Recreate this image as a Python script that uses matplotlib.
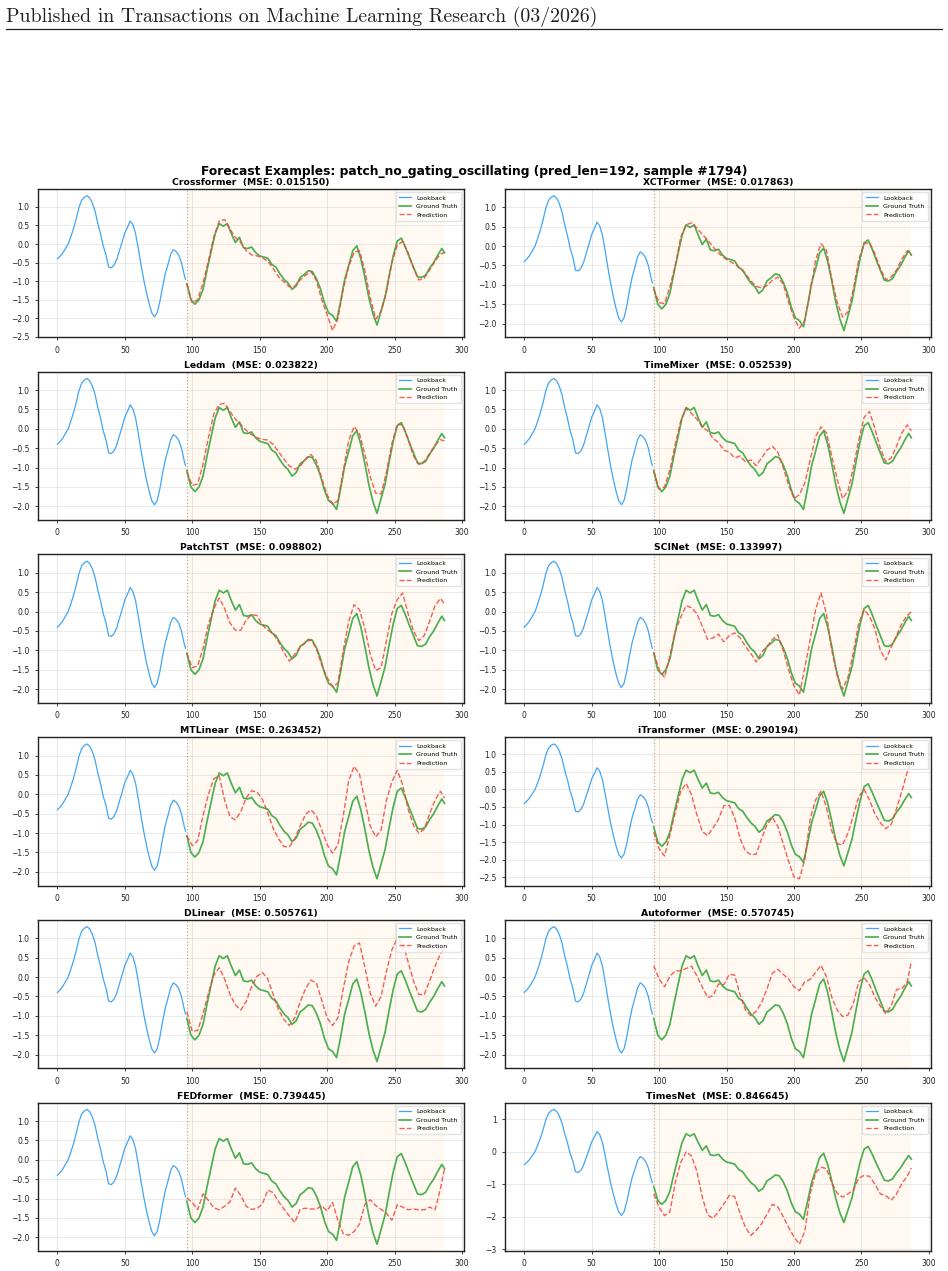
import numpy as np
import matplotlib
matplotlib.use("Agg")
import matplotlib.pyplot as plt
from matplotlib.lines import Line2D

# ---------------- data ----------------
header_text = "Published in Transactions on Machine Learning Research (03/2026)"
suptitle_text = "Forecast Examples: patch_no_gating_oscillating (pred_len=192, sample #1794)"

lookback_t = np.r_[np.arange(0, 95, 2), 95]
lookback_v = [-0.40, -0.33, -0.24, -0.12, 0.00, 0.20, 0.42, 0.68, 0.98, 1.18,
              1.26, 1.30, 1.24, 1.10, 0.88, 0.55, 0.28, -0.05, -0.28, -0.62,
              -0.64, -0.57, -0.42, -0.18, 0.05, 0.30, 0.45, 0.62, 0.52, 0.28,
              -0.12, -0.55, -0.95, -1.30, -1.60, -1.85, -1.96, -1.85, -1.55, -1.15,
              -0.80, -0.55, -0.28, -0.15, -0.20, -0.30, -0.50, -0.82, -0.95]

gt_t = np.r_[np.arange(96, 286, 3), 287]
gt_v = [-1.07, -1.50, -1.62, -1.50, -1.22, -0.69, -0.20, 0.28, 0.55, 0.48,
        0.55, 0.28, 0.04, 0.18, -0.10, -0.12, -0.08, -0.23, -0.32, -0.35,
        -0.38, -0.55, -0.62, -0.80, -0.95, -1.05, -1.22, -1.13, -0.90, -0.82,
        -0.72, -0.74, -0.93, -1.20, -1.58, -1.85, -1.92, -2.08, -1.55, -0.96,
        -0.58, -0.18, -0.05, -0.40, -0.90, -1.45, -1.88, -2.18, -1.80, -1.42,
        -0.85, -0.32, 0.08, 0.16, -0.08, -0.36, -0.62, -0.88, -0.90, -0.84,
        -0.65, -0.50, -0.30, -0.12, -0.23]

pred_t = np.r_[np.arange(96, 285, 4), 287]

models = ["Crossformer", "XCTFormer", "Leddam", "TimeMixer", "PatchTST", "SCINet",
          "MTLinear", "iTransformer", "DLinear", "Autoformer", "FEDformer", "TimesNet"]
mse = ["0.015150", "0.017863", "0.023822", "0.052539", "0.098802", "0.133997",
       "0.263452", "0.290194", "0.505761", "0.570745", "0.739445", "0.846645"]

pred_crossformer = [-1.07, -1.58, -1.50, -1.05, -0.45, 0.20, 0.62, 0.66, 0.40, 0.18,
                    0.04, -0.18, -0.29, -0.32, -0.37, -0.46, -0.66, -0.88, -1.02, -1.15,
                    -1.13, -0.97, -0.84, -0.74, -0.98, -1.50, -1.90, -2.33, -2.00, -1.20,
                    -0.60, -0.22, -0.18, -0.72, -1.45, -2.02, -1.82, -1.28, -0.50, -0.03,
                    0.07, -0.23, -0.65, -0.97, -0.92, -0.70, -0.46, -0.27, -0.23]
pred_xctformer = [-1.11, -1.46, -1.48, -1.05, -0.50, 0.22, 0.55, 0.60, 0.47, 0.30,
                  0.16, -0.02, -0.18, -0.30, -0.39, -0.46, -0.57, -0.71, -0.90, -1.04,
                  -1.08, -1.02, -0.88, -0.80, -0.98, -1.45, -1.85, -2.12, -1.92, -1.19,
                  -0.36, 0.06, -0.10, -0.85, -1.45, -1.83, -1.70, -1.11, -0.35, 0.07,
                  0.08, -0.20, -0.58, -0.87, -0.80, -0.62, -0.33, -0.12, -0.23]
pred_leddam = [-1.12, -1.46, -1.42, -0.92, -0.22, 0.38, 0.63, 0.66, 0.45, 0.25,
               0.11, -0.04, -0.15, -0.23, -0.27, -0.29, -0.40, -0.59, -0.78, -0.96,
               -1.04, -0.97, -0.78, -0.66, -0.82, -1.28, -1.70, -1.95, -1.85, -1.08,
               -0.30, 0.06, -0.13, -0.66, -1.24, -1.66, -1.68, -1.12, -0.38, 0.12,
               0.10, -0.25, -0.70, -0.92, -0.84, -0.64, -0.42, -0.28, -0.31]
pred_timemixer = [-1.10, -1.55, -1.50, -1.05, -0.40, 0.20, 0.52, 0.40, 0.25, 0.05,
                  -0.05, -0.25, -0.35, -0.55, -0.60, -0.75, -0.70, -0.85, -0.80, -0.95,
                  -0.75, -0.55, -0.45, -0.60, -1.00, -1.45, -1.80, -1.70, -1.40, -0.80,
                  -0.20, 0.05, -0.10, -0.70, -1.30, -1.80, -1.60, -1.00, -0.30, 0.30,
                  0.45, 0.00, -0.50, -0.85, -0.75, -0.45, -0.10, 0.10, -0.05]
pred_patchtst = [-1.08, -1.45, -1.40, -0.95, -0.32, 0.08, 0.35, 0.08, -0.30, -0.48,
                 -0.48, -0.22, -0.08, -0.10, -0.35, -0.48, -0.57, -0.78, -1.06, -1.28,
                 -1.10, -0.92, -0.80, -0.72, -0.95, -1.38, -1.70, -1.94, -1.85, -1.00,
                 -0.25, 0.18, 0.05, -0.44, -1.10, -1.52, -1.45, -0.75, -0.05, 0.31,
                 0.48, -0.05, -0.50, -0.75, -0.62, -0.25, 0.15, 0.34, 0.20]
pred_scinet = [-1.06, -1.50, -1.70, -1.15, -0.50, -0.15, 0.15, 0.10, -0.05, -0.38,
               -0.72, -0.68, -0.58, -0.78, -0.62, -0.55, -0.68, -0.90, -1.08, -1.30,
               -1.05, -0.90, -0.72, -0.60, -1.00, -1.50, -1.92, -2.15, -1.45, -0.72,
               0.05, 0.48, -0.05, -1.00, -1.65, -2.00, -1.70, -1.06, -0.30, 0.05,
               -0.12, -0.45, -1.00, -1.25, -0.92, -0.62, -0.30, -0.10, 0.00]
pred_mtlinear = [-1.07, -1.32, -1.20, -0.55, 0.00, 0.40, 0.48, -0.15, -0.58, -0.66,
                 -0.45, -0.09, 0.09, 0.06, -0.13, -0.48, -0.88, -1.15, -1.35, -1.35,
                 -1.15, -0.82, -0.52, -0.40, -0.55, -0.92, -1.30, -1.52, -1.30, -0.55,
                 0.35, 0.72, 0.52, -0.17, -0.82, -1.10, -0.92, -0.15, 0.32, 0.62,
                 0.25, -0.38, -0.80, -1.00, -0.90, -0.50, -0.15, 0.08, -0.10]
pred_itransformer = [-1.22, -1.70, -1.90, -1.30, -0.65, -0.05, 0.17, -0.15, -0.72, -1.20,
                     -1.32, -1.10, -0.85, -0.46, -0.45, -0.80, -1.40, -1.76, -1.86, -1.85,
                     -1.40, -1.00, -0.80, -1.05, -1.55, -2.05, -2.50, -2.55, -2.00, -0.85,
                     -0.30, -0.05, -0.50, -1.18, -1.55, -1.58, -1.25, -0.75, -0.20, 0.00,
                     -0.30, -0.70, -0.95, -1.12, -1.00, -0.55, -0.05, 0.50, 0.80]
pred_dlinear = [-0.90, -1.40, -1.38, -0.95, -0.42, 0.05, 0.24, -0.05, -0.45, -0.72,
                -0.85, -0.63, -0.25, 0.02, 0.12, -0.05, -0.45, -0.85, -1.10, -1.25,
                -1.05, -0.65, -0.30, -0.08, -0.15, -0.60, -1.05, -1.25, -1.05, -0.30,
                0.40, 0.80, 0.88, 0.25, -0.42, -0.75, -0.50, 0.15, 0.70, 1.00,
                0.88, 0.40, -0.10, -0.45, -0.45, -0.10, 0.28, 0.60, 0.75]
pred_autoformer = [0.29, -0.05, -0.25, 0.02, 0.16, 0.16, 0.22, 0.28, 0.03, -0.26,
                   -0.53, -0.48, -0.18, -0.20, 0.07, 0.05, -0.45, -0.85, -1.00, -0.88,
                   -0.66, -0.30, 0.10, 0.20, 0.07, -0.05, -0.25, -0.35, -0.12, -0.06,
                   0.12, 0.30, 0.02, -0.52, -0.85, -1.02, -0.98, -0.68, -0.12, -0.02,
                   -0.20, -0.52, -0.75, -0.94, -0.75, -0.32, -0.30, -0.12, 0.40]
pred_fedformer = [-0.99, -1.10, -1.29, -0.88, -1.05, -1.24, -1.29, -1.20, -1.08, -0.73,
                  -0.92, -1.20, -1.28, -1.26, -1.14, -0.78, -0.85, -1.08, -1.27, -1.45,
                  -1.62, -1.28, -1.25, -1.27, -1.27, -1.19, -1.32, -1.10, -1.56, -1.91,
                  -1.95, -1.85, -1.66, -1.15, -1.03, -1.18, -1.28, -1.38, -1.56, -1.16,
                  -1.22, -1.29, -1.27, -1.29, -1.29, -1.22, -1.29, -0.75, -0.24]
pred_timesnet = [-1.30, -1.71, -1.97, -1.85, -0.95, -0.33, -0.01, -0.13, -0.60, -1.40,
                 -1.95, -2.05, -1.85, -1.61, -1.35, -1.38, -1.90, -2.33, -2.58, -2.42,
                 -2.22, -1.92, -1.62, -1.70, -2.00, -2.33, -2.62, -2.85, -2.45, -1.30,
                 -0.65, -0.48, -0.52, -0.95, -1.28, -1.40, -1.30, -1.18, -0.82, -0.73,
                 -0.76, -1.00, -1.30, -1.35, -1.50, -1.30, -0.98, -0.75, -0.50]

preds = [pred_crossformer, pred_xctformer, pred_leddam, pred_timemixer,
         pred_patchtst, pred_scinet, pred_mtlinear, pred_itransformer,
         pred_dlinear, pred_autoformer, pred_fedformer, pred_timesnet]

# ---------------- styling ----------------
C_LOOK = "#42A5F5"
C_GT = "#4CAF50"
C_PRED = "#F44336"

W, H = 948, 1271
fig = plt.figure(figsize=(W / 100, H / 100), dpi=100)

# page header
fig.text(6 / W, 1 - 21.5 / H, header_text, family="cmr10", fontsize=14.3,
         ha="left", va="baseline", color="#222222")
fig.add_artist(Line2D([6 / W, 942 / W], [1 - 28.5 / H, 1 - 28.5 / H],
                      transform=fig.transFigure, color="#222222", lw=0.9))

gs = fig.add_gridspec(6, 2, left=38 / W, right=930.7 / W,
                      top=1 - 189 / H, bottom=1 - 1251 / H,
                      wspace=0.0964, hspace=0.232)

for i, (name, m, pv) in enumerate(zip(models, mse, preds)):
    ax = fig.add_subplot(gs[i // 2, i % 2])
    ax.axvspan(gt_t[0], gt_t[-1], color="#FFA726", alpha=0.06, lw=0, zorder=0)
    ax.axvline(lookback_t[-1] + 1, color="#A09080", ls=":", lw=0.9, alpha=0.7, zorder=1)
    ax.plot(lookback_t, lookback_v, color=C_LOOK, lw=0.9, label="Lookback", zorder=3)
    ax.plot(gt_t, gt_v, color=C_GT, lw=1.25, label="Ground Truth", zorder=3)
    ax.plot(pred_t, pv, color=C_PRED, lw=1.0, ls="--", alpha=0.85,
            label="Prediction", zorder=4)
    ax.set_title(f"{name}  (MSE: {m})", fontsize=6.7, fontweight="bold", pad=3)
    ax.grid(True, color="#cccccc", alpha=0.5, lw=0.6)
    ax.set_axisbelow(True)
    ax.tick_params(labelsize=5.5, length=2.5, width=0.6, colors="#222222")
    for s in ax.spines.values():
        s.set_linewidth(1.0)
        s.set_color("#222222")
    ax.legend(loc="upper right", fontsize=4.5, framealpha=0.8, borderpad=0.5,
              handlelength=2.0, edgecolor="#dddddd")

fig.text(0.5, 1 - 171 / H, suptitle_text, fontsize=8.8, fontweight="bold",
         ha="center", va="center")

fig.savefig("out.png", dpi=100)
